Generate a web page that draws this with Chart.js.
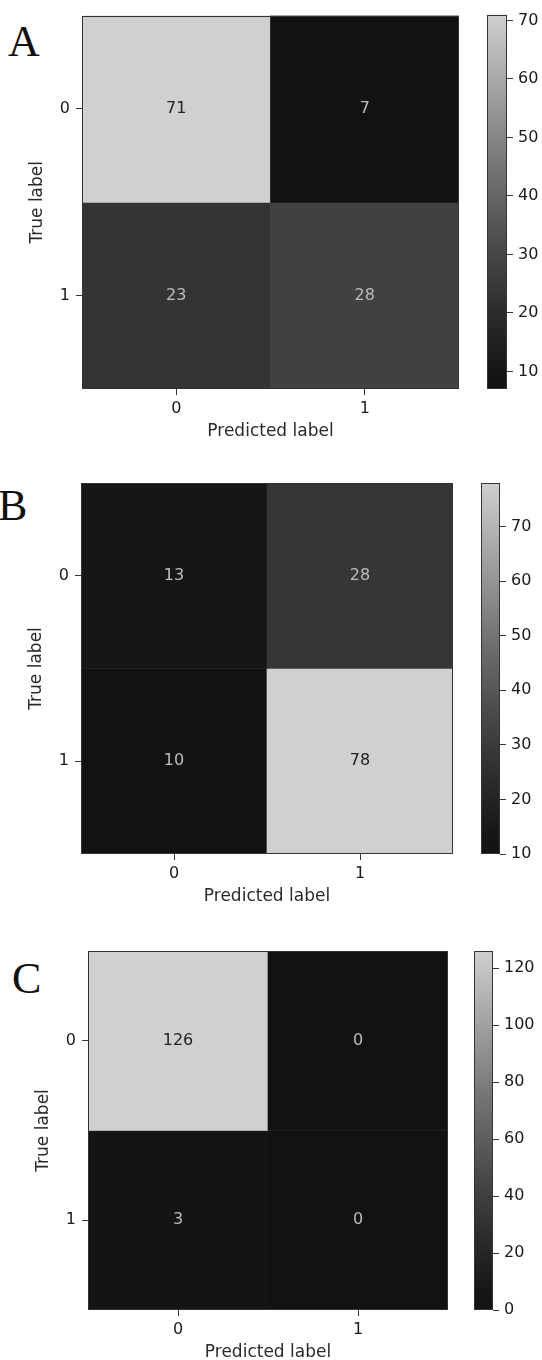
<!DOCTYPE html>
<html>
<head>
<meta charset="utf-8">
<script src="https://cdn.jsdelivr.net/npm/chart.js@4.4.1/dist/chart.umd.min.js"></script>
<style>
  body { margin: 0; background: #fff; }
  #page { position: relative; width: 542px; height: 1360px; overflow: hidden; }
  canvas { position: absolute; }
  .tag { position: absolute; font-family: 'Liberation Serif', serif; font-size: 44px; line-height: 1; color: #111; }
</style>
</head>
<body>
<div id="page">
  <div class="tag" style="left:8px;top:20px">A</div>
  <div class="tag" style="left:-2px;top:484px">B</div>
  <div class="tag" style="left:12px;top:957px">C</div>
  <canvas id="cmA"></canvas><canvas id="cbA"></canvas>
  <canvas id="cmB"></canvas><canvas id="cbB"></canvas>
  <canvas id="cmC"></canvas><canvas id="cbC"></canvas>
</div>
<script>
// confusion matrices, rows = true label, cols = predicted label
const classLabels = ['0', '1'];
const cellsA = [[71, 7], [23, 28]];
const cellsB = [[13, 28], [10, 78]];
const cellsC = [[126, 0], [3, 0]];
// colorbar ticks
const barTicksA = [10, 20, 30, 40, 50, 60, 70];
const barTicksB = [10, 20, 30, 40, 50, 60, 70];
const barTicksC = [0, 20, 40, 60, 80, 100, 120];

Chart.defaults.font.family = 'DejaVu Sans';
Chart.defaults.color = '#1a1a1a';

// gray colormap, a bit washed out like the scan
function gray(t) {
    const g = Math.round(18 + 190 * Math.pow(Math.max(0, Math.min(1, t)), 1.25));
    return 'rgb(' + g + ',' + g + ',' + g + ')';
}

const frame = {
    id: 'frame',
    afterDraw(chart) {
        const a = chart.chartArea, c = chart.ctx;
        c.save();
        c.strokeStyle = '#333';
        c.lineWidth = 1;
        c.strokeRect(Math.round(a.left) + 0.5, Math.round(a.top) + 0.5,
            Math.round(a.right - a.left) - 1, Math.round(a.bottom - a.top) - 1);
        c.restore();
    }
};

const cellText = {
    id: 'cellText',
    afterDatasetsDraw(chart) {
        const c = chart.ctx;
        c.save();
        c.font = '16px "DejaVu Sans"';
        c.textAlign = 'center';
        c.textBaseline = 'middle';
        chart.data.datasets.forEach((ds, r) => {
            chart.getDatasetMeta(r).data.forEach((bar, k) => {
                const v = ds.counts[k];
                c.fillStyle = v > ds.mid ? '#222' : '#bdbdbd';
                c.fillText(String(v), bar.x, (bar.y + bar.base) / 2);
            });
        });
        c.restore();
    }
};

function panel(id, cells, barTicks, box) {
    const flat = cells.flat();
    const lo = Math.min(...flat), hi = Math.max(...flat);
    const mid = (lo + hi) / 2;

    const cm = document.getElementById('cm' + id);
    cm.width = box.plotR + 8;
    cm.height = box.plotB + 60 - box.top;
    cm.style.left = '0px';
    cm.style.top = box.top + 'px';

    new Chart(cm, {
        type: 'bar',
        data: {
            labels: classLabels,
            datasets: cells.map((row, r) => ({
                data: row.map(() => [r - 0.5, r + 0.5]),
                counts: row,
                mid: mid,
                backgroundColor: row.map(v => gray((v - lo) / (hi - lo))),
                borderWidth: 0,
                grouped: false,
                barPercentage: 1,
                categoryPercentage: 1
            }))
        },
        options: {
            responsive: false,
            animation: false,
            layout: { padding: { top: box.plotT - box.top, right: 8, left: 0, bottom: 0 } },
            plugins: { legend: { display: false }, tooltip: { enabled: false } },
            scales: {
                x: {
                    afterFit(s) { s.height = 60; },
                    grid: { offset: false, drawOnChartArea: false, tickLength: 6, color: '#333' },
                    border: { display: false },
                    ticks: { padding: 4, font: { size: 16 } },
                    title: { display: true, text: 'Predicted label', font: { size: 17 }, color: '#2a2a2a',
                        padding: { top: 0, bottom: 7 } }
                },
                y: {
                    min: -0.5,
                    max: 1.5,
                    reverse: true,
                    afterFit(s) { s.width = box.plotL; },
                    afterBuildTicks(s) { s.ticks = classLabels.map((_, i) => ({ value: i })); },
                    grid: { drawOnChartArea: false, tickLength: 6, color: '#333' },
                    border: { display: false },
                    ticks: { padding: 6, font: { size: 16 }, callback: (v, i) => classLabels[i] },
                    title: { display: true, text: 'True label', font: { size: 17 }, color: '#2a2a2a',
                        padding: { top: box.plotL - 44 - 10.2, bottom: 0 } }
                }
            }
        },
        plugins: [cellText, frame]
    });

    const cb = document.getElementById('cb' + id);
    const cbLeft = box.cbL - 14;
    cb.width = 542 - cbLeft;
    cb.height = cm.height;
    cb.style.left = cbLeft + 'px';
    cb.style.top = box.top + 'px';

    new Chart(cb, {
        type: 'bar',
        data: {
            labels: [''],
            datasets: [{
                data: [[lo, hi]],
                backgroundColor(ctx) {
                    const a = ctx.chart.chartArea;
                    if (!a) return null;
                    const g = ctx.chart.ctx.createLinearGradient(0, a.bottom, 0, a.top);
                    for (let i = 0; i <= 20; i++) g.addColorStop(i / 20, gray(i / 20));
                    return g;
                },
                borderWidth: 0,
                barPercentage: 1,
                categoryPercentage: 1
            }]
        },
        options: {
            responsive: false,
            animation: false,
            layout: { padding: { top: box.plotT - box.top, left: 14, right: 0, bottom: 60 } },
            plugins: { legend: { display: false }, tooltip: { enabled: false } },
            scales: {
                x: { display: false },
                y: {
                    position: 'right',
                    min: lo,
                    max: hi,
                    afterFit(s) { s.width = 542 - box.cbR; },
                    afterBuildTicks(s) { s.ticks = barTicks.map(v => ({ value: v })); },
                    grid: { drawOnChartArea: false, tickLength: 6, color: '#333' },
                    border: { display: false },
                    ticks: { padding: 5, font: { size: 16 } }
                }
            }
        },
        plugins: [frame]
    });
}

panel('A', cellsA, barTicksA, { top: 0, plotL: 82, plotR: 459, plotT: 14, plotB: 389, cbL: 487, cbR: 507 });
panel('B', cellsB, barTicksB, { top: 460, plotL: 81, plotR: 453, plotT: 483, plotB: 854, cbL: 481, cbR: 500 });
panel('C', cellsC, barTicksC, { top: 920, plotL: 88, plotR: 448, plotT: 951, plotB: 1310, cbL: 474, cbR: 493 });
</script>
</body>
</html>
